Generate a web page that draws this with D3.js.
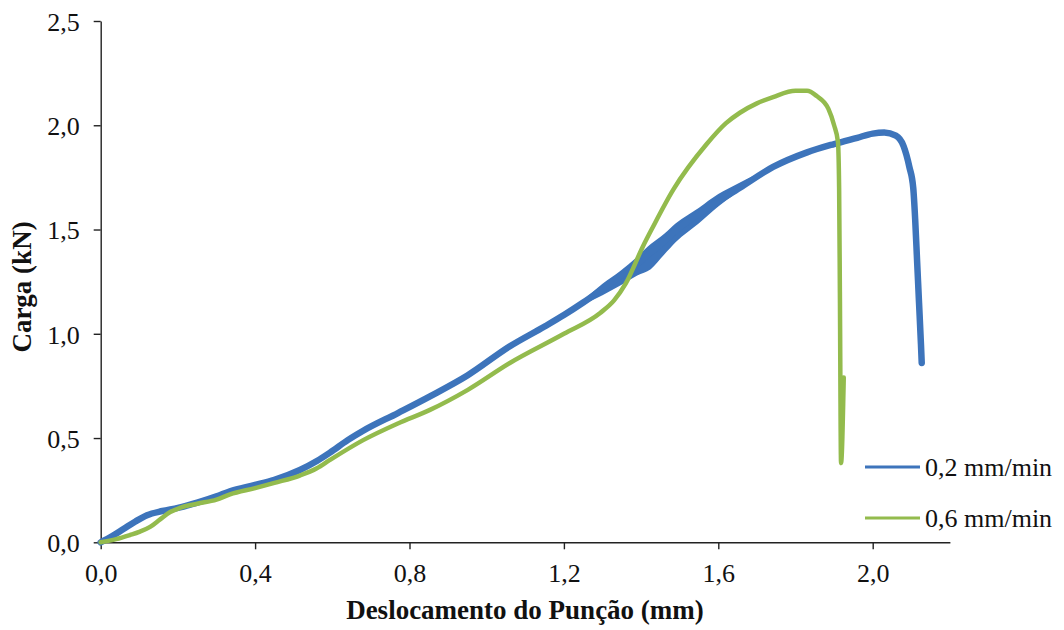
<!DOCTYPE html>
<html>
<head>
<meta charset="utf-8">
<script src="https://cdn.jsdelivr.net/npm/d3@7"></script>
<style>
  html, body { margin: 0; padding: 0; background: #fff; }
  svg { display: block; }
</style>
</head>
<body>
<svg id="chart" width="1064" height="630"></svg>
<script>
// Punch displacement (mm) and load (kN) for the two test speeds
const disp02 = [0, 0.03, 0.06, 0.09, 0.12, 0.16, 0.2, 0.25, 0.3, 0.335, 0.4, 0.45, 0.516, 0.56, 0.594, 0.64, 0.68,
  0.77, 0.853, 0.95, 1.06, 1.15, 1.2, 1.25, 1.3, 1.345, 1.39, 1.425, 1.46, 1.5, 1.57, 1.656, 1.742, 1.83, 1.9, 1.96,
  2.0, 2.03, 2.06, 2.08, 2.095, 2.105, 2.11, 2.115, 2.12, 2.125, 2.127];
const load02 = [0, 0.03, 0.065, 0.1, 0.13, 0.15, 0.165, 0.19, 0.22, 0.245, 0.275, 0.3, 0.347, 0.39, 0.43, 0.49, 0.535,
  0.62, 0.70, 0.80, 0.94, 1.035, 1.09, 1.15, 1.215, 1.275, 1.335, 1.39, 1.445, 1.51, 1.60, 1.70, 1.80, 1.87, 1.91, 1.94,
  1.96, 1.965, 1.95, 1.9, 1.8, 1.7, 1.55, 1.35, 1.15, 0.95, 0.86];

// Scatter envelope of the 0,2 mm/min signal where it is noisiest
const band02Disp = [1.25, 1.30, 1.345, 1.39, 1.425, 1.46, 1.49, 1.55, 1.60, 1.65, 1.70];
const band02Low  = [1.14, 1.185, 1.23, 1.28, 1.31, 1.38, 1.44, 1.53, 1.61, 1.68, 1.74];
const band02High = [1.16, 1.24, 1.30, 1.37, 1.43, 1.48, 1.53, 1.605, 1.67, 1.72, 1.765];

const disp06 = [0, 0.04, 0.076, 0.1, 0.128, 0.154, 0.18, 0.205, 0.25, 0.3, 0.335, 0.4, 0.45, 0.516, 0.56, 0.594,
  0.68, 0.77, 0.853, 0.95, 1.06, 1.2, 1.294, 1.33, 1.36, 1.405, 1.43, 1.483, 1.57, 1.62, 1.656, 1.70, 1.742, 1.80,
  1.83, 1.855, 1.885, 1.9, 1.91, 1.913, 1.915, 1.918, 1.925];
const load06 = [0, 0.015, 0.035, 0.05, 0.074, 0.11, 0.145, 0.165, 0.185, 0.205, 0.23, 0.26, 0.285, 0.32, 0.355, 0.395,
  0.49, 0.57, 0.635, 0.73, 0.86, 1.0, 1.10, 1.16, 1.24, 1.42, 1.51, 1.69, 1.91, 2.01, 2.06, 2.105, 2.135, 2.165,
  2.165, 2.14, 2.08, 2.0, 1.92, 1.7, 1.2, 0.38, 0.79];

const seriesNames = ["0,2 mm/min", "0,6 mm/min"];
const seriesColors = ["#3d74bb", "#93bb4d"];

const xTicks = [0, 0.4, 0.8, 1.2, 1.6, 2.0];
const yTicks = [0, 0.5, 1.0, 1.5, 2.0, 2.5];

const fmt = v => v.toFixed(1).replace(".", ",");

const svg = d3.select("#chart");
const plotLeft = 100.7, plotTop = 21, plotBottom = 542.3;

const x = d3.scaleLinear().domain([0, 2.2]).range([plotLeft, plotLeft + 2.2 * 386]);
const y = d3.scaleLinear().domain([0, 2.5]).range([plotBottom, plotTop]);

const serif = '"Liberation Serif", "Times New Roman", serif';

// Axes
const xAxis = svg.append("g")
  .attr("transform", `translate(0,${plotBottom})`)
  .call(d3.axisBottom(x).tickValues(xTicks).tickFormat(fmt).tickSize(7).tickSizeOuter(0));
const yAxis = svg.append("g")
  .attr("transform", `translate(${plotLeft},0)`)
  .call(d3.axisLeft(y).tickValues(yTicks).tickFormat(fmt).tickSize(7).tickSizeOuter(0));

[xAxis, yAxis].forEach(g => {
  g.select(".domain").attr("stroke", "#222").attr("stroke-width", 1.4);
  g.selectAll(".tick line").attr("stroke", "#222").attr("stroke-width", 1.4);
  g.selectAll(".tick text").attr("font-size", 26).attr("fill", "#111").attr("font-family", serif);
});
xAxis.selectAll(".tick text").attr("dy", "1.15em");
yAxis.selectAll(".tick text").attr("x", -21).attr("dy", "0.36em");

// Axis titles
svg.append("text")
  .attr("x", 525).attr("y", 619)
  .attr("text-anchor", "middle")
  .attr("font-family", serif).attr("font-weight", "bold").attr("font-size", 27).attr("fill", "#111")
  .text("Deslocamento do Punção (mm)");
svg.append("text")
  .attr("transform", "translate(31,287) rotate(-90)")
  .attr("text-anchor", "middle")
  .attr("font-family", serif).attr("font-weight", "bold").attr("font-size", 27).attr("fill", "#111")
  .text("Carga (kN)");

// Curves
const line = d3.line().x(d => x(d[0])).y(d => y(d[1])).curve(d3.curveMonotoneX);
const data02 = disp02.map((d, i) => [d, load02[i]]);
const data06 = disp06.map((d, i) => [d, load06[i]]);
const band02 = band02Disp.map((d, i) => [d, band02Low[i], band02High[i]]);

svg.append("path").datum(band02)
  .attr("fill", seriesColors[0])
  .attr("d", d3.area().x(d => x(d[0])).y0(d => y(d[1])).y1(d => y(d[2])).curve(d3.curveMonotoneX));
svg.append("path").datum(data02)
  .attr("fill", "none").attr("stroke", seriesColors[0]).attr("stroke-width", 6.5)
  .attr("stroke-linejoin", "round").attr("stroke-linecap", "round")
  .attr("d", line);
svg.append("path").datum(data06)
  .attr("fill", "none").attr("stroke", seriesColors[1]).attr("stroke-width", 4.5)
  .attr("stroke-linejoin", "round").attr("stroke-linecap", "round")
  .attr("d", line);

// Legend
const legend = svg.append("g");
seriesNames.forEach((name, i) => {
  const ly = 467 + i * 51;
  legend.append("line")
    .attr("x1", 865).attr("x2", 920).attr("y1", ly).attr("y2", ly)
    .attr("stroke", seriesColors[i]).attr("stroke-width", 3);
  legend.append("text")
    .attr("x", 925).attr("y", ly).attr("dy", "0.36em")
    .attr("font-family", serif).attr("font-size", 26).attr("fill", "#111")
    .text(name);
});
</script>
</body>
</html>
